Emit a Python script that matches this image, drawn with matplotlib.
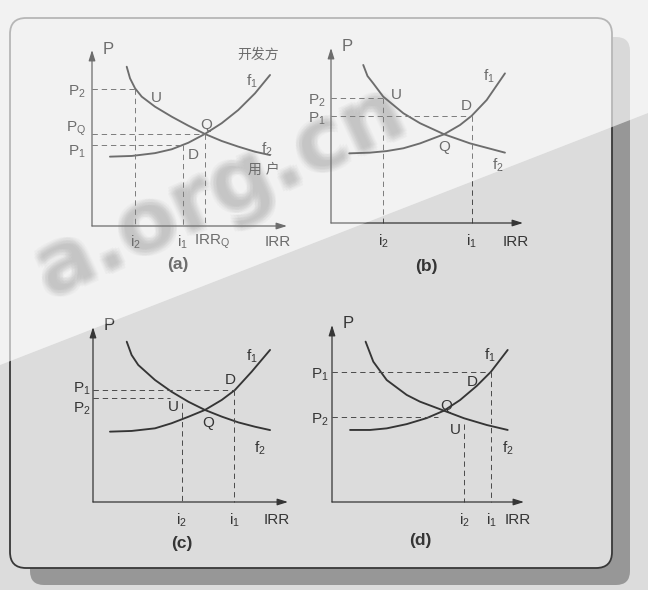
import matplotlib
matplotlib.use('Agg')
import matplotlib.pyplot as plt
from matplotlib.patches import FancyBboxPatch, Polygon

plt.rcParams['font.family'] = ['Liberation Sans', 'Noto Sans CJK SC', 'DejaVu Sans']
plt.rcParams['mathtext.fontset'] = 'custom'
plt.rcParams['mathtext.rm'] = 'Liberation Sans'
plt.rcParams['mathtext.it'] = 'Liberation Sans'
plt.rcParams['mathtext.default'] = 'regular'

W, H = 648, 590
INK = '#353535'
DASH = '#4a4a4a'
BG = '#dcdcdc'

# ---- data (IRR / P in axis percent, origin = 0) ----
# panel (a)
a_f1_irr = [9.2, 20.4, 32.3, 40.9, 49.4, 57.9, 66.5, 75.0, 83.6, 91.3]
a_f1_p = [39.4, 39.8, 41.4, 43.6, 47.3, 52.3, 58.4, 65.9, 75.4, 85.8]
a_f2_irr = [17.8, 19.5, 22.1, 25.5, 32.3, 40.9, 49.4, 57.9, 66.5, 75.0, 83.6, 91.3]
a_f2_p = [90.5, 83.9, 78.2, 73.5, 67.8, 62.1, 57.0, 52.3, 48.3, 45.1, 42.2, 40.3]
a_p_lv = [77.7, 52.3, 46.0]        # P2, PQ, P1
a_i_lv = [22.1, 57.9, 46.5]        # i2, IRRQ, i1
a_h_end = [22.1, 57.9, 46.5]
a_v_top = [77.7, 52.3, 46.0]

# panel (b)
b_f1_irr = [9.5, 20.3, 29.0, 37.7, 46.4, 58.9, 67.2, 73.3, 81.1, 90.6]
b_f1_p = [39.8, 40.2, 41.1, 42.7, 45.5, 50.7, 56.0, 61.3, 70.3, 85.5]
b_f2_irr = [16.8, 19.0, 22.0, 27.2, 37.7, 46.4, 58.9, 72.4, 90.6]
b_f2_p = [90.3, 84.0, 79.8, 72.2, 62.7, 57.0, 50.7, 45.5, 40.2]
b_p_lv = [71.3, 61.3]              # P2, P1
b_i_lv = [27.2, 73.3]              # i2, i1
b_h_end = [27.2, 73.3]
b_v_top = [71.3, 61.3]

# panel (c)
c_f1_irr = [8.7, 19.8, 31.8, 40.3, 48.9, 57.4, 66.0, 72.8, 81.4, 90.8]
c_f1_p = [40.2, 40.6, 42.1, 45.0, 48.7, 52.6, 58.3, 64.0, 74.5, 86.9]
c_f2_irr = [17.3, 19.8, 23.2, 31.8, 40.3, 48.9, 57.4, 66.0, 74.5, 83.1, 90.8]
c_f2_p = [91.6, 84.0, 78.3, 69.7, 63.0, 57.3, 52.6, 48.8, 45.5, 43.0, 41.1]
c_p_lv = [64.0, 59.2]              # P1, P2
c_i_lv = [72.5, 45.5]              # i1, i2
c_h_end = [72.5, 39.5]
c_v_top = [64.0, 56.4]

# panel (d)
d_f1_irr = [9.4, 19.8, 28.5, 38.9, 49.3, 58.3, 66.7, 75.4, 82.8, 91.5]
d_f1_p = [40.7, 40.7, 41.6, 44.0, 47.4, 51.6, 57.6, 65.6, 73.6, 85.9]
d_f2_irr = [17.5, 21.5, 28.5, 38.9, 45.8, 58.3, 68.8, 80.6, 91.5]
d_f2_p = [90.6, 79.3, 68.9, 60.5, 56.7, 51.6, 47.3, 43.5, 40.7]
d_p_lv = [73.6, 48.2]              # P1, P2
d_i_lv = [82.8, 68.8]              # i1, i2
d_h_end = [82.8, 55.0]
d_v_top = [73.6, 44.0]

fig = plt.figure(figsize=(W / 100, H / 100), dpi=100)
fig.patch.set_facecolor(BG)

# page background: shadow, frame, washed-out upper-left
ax_bg = fig.add_axes([0, 0, 1, 1], zorder=-5)
ax_bg.set_xlim(0, W)
ax_bg.set_ylim(H, 0)
ax_bg.axis('off')
ax_bg.add_patch(FancyBboxPatch((30, 37), 600, 548, boxstyle='round,pad=0,rounding_size=14',
                               fc='#979797', ec='none'))
ax_bg.add_patch(FancyBboxPatch((10, 18), 602, 550, boxstyle='round,pad=0,rounding_size=16',
                               fc=BG, ec='#383838', lw=1.3))
upper = [(0, 0), (W, 0), (W, 113), (0, 365)]
ax_bg.add_patch(Polygon(upper, closed=True, fc='white', ec='none', alpha=0.5))

# blurry watermark
ax_wm = fig.add_axes([0, 0, 1, 1], zorder=-1)
ax_wm.set_xlim(0, W)
ax_wm.set_ylim(H, 0)
ax_wm.axis('off')
for dx in (-3, 0, 3):
    for dy in (-3, 0, 3):
        ax_wm.text(220 + dx, 192 + dy, 'a.org.cn', rotation=25, fontsize=62, fontweight='bold',
                   family='DejaVu Sans', color='#6a6a6a', alpha=0.065, ha='center', va='center')


def draw_panel(box, f1_irr, f1_p, f2_irr, f2_p, p_lv, h_end, i_lv, v_top, texts, tag):
    ox, oy, xend, ytop = box
    w = xend - ox
    h = oy - ytop
    x0, x1, y0, y1 = -40, 118, -35, 112
    left = ox + x0 / 100 * w
    right = ox + x1 / 100 * w
    bottom = oy - y0 / 100 * h
    top = oy - y1 / 100 * h
    ax = fig.add_axes([left / W, 1 - bottom / H, (right - left) / W, (bottom - top) / H])
    ax.set_xlim(x0, x1)
    ax.set_ylim(y0, y1)
    ax.axis('off')

    arrow = dict(arrowstyle='-|>,head_length=0.7,head_width=0.22', mutation_scale=9,
                 lw=0.9, color=INK, shrinkA=0, shrinkB=0)
    ax.annotate('', xy=(0, 100), xytext=(0, 0), arrowprops=arrow)
    ax.annotate('', xy=(100, 0), xytext=(0, 0), arrowprops=arrow)

    ax.plot(f1_irr, f1_p, color=INK, lw=1.35, solid_joinstyle='round', solid_capstyle='round')
    ax.plot(f2_irr, f2_p, color=INK, lw=1.35, solid_joinstyle='round', solid_capstyle='round')

    dashes = (0, (5.5, 4))
    for p, xe in zip(p_lv, h_end):
        ax.plot([0, xe], [p, p], ls=dashes, lw=0.7, color=DASH)
    for i, vt in zip(i_lv, v_top):
        ax.plot([i, i], [vt, 0], ls=dashes, lw=0.7, color=DASH)

    for s, x, y, size in texts:
        ax.text(x, y, s, fontsize=size, color=INK, ha='center', va='center')
    ax.text(tag[1], tag[2], tag[0], fontsize=12.5, fontweight='bold', color=INK,
            ha='center', va='center')
    return ax


draw_panel((92, 226, 287, 50), a_f1_irr, a_f1_p, a_f2_irr, a_f2_p,
           a_p_lv, a_h_end, a_i_lv, a_v_top,
           [('P', 8.2, 100, 12),
            ('$P_2$', -8, 76.3, 11), ('$P_Q$', -8, 55, 11), ('$P_1$', -8, 42.2, 11),
            ('$i_2$', 22.1, -9, 11), ('$i_1$', 46.5, -9, 11), ('$IRR_Q$', 61.5, -9, 11),
            ('IRR', 95, -9, 11),
            ('开发方', 85, 97, 10), ('用 户', 88, 31.8, 10),
            ('$f_1$', 81.9, 82, 11), ('$f_2$', 89.6, 43.6, 11),
            ('U', 33.2, 72.9, 11), ('Q', 58.8, 57.4, 11), ('D', 51.9, 40.3, 11)],
           ('(a)', 44, -22))

draw_panel((331, 223, 523, 48), b_f1_irr, b_f1_p, b_f2_irr, b_f2_p,
           b_p_lv, b_h_end, b_i_lv, b_v_top,
           [('P', 8.2, 100.7, 12),
            ('$P_2$', -7.3, 69.7, 11), ('$P_1$', -7.3, 59.4, 11),
            ('$i_2$', 27.2, -10.7, 11), ('$i_1$', 73.3, -10.7, 11),
            ('IRR', 96.4, -10.7, 11),
            ('$f_1$', 82, 84, 11), ('$f_2$', 87, 33, 11),
            ('U', 33.9, 73.1, 11), ('D', 70.7, 66.9, 11), ('Q', 58.9, 43.6, 11)],
           ('(b)', 49.8, -25))

draw_panel((93, 502, 288, 327), c_f1_irr, c_f1_p, c_f2_irr, c_f2_p,
           c_p_lv, c_h_end, c_i_lv, c_v_top,
           [('P', 8.4, 101, 12),
            ('$P_1$', -5.6, 64.6, 11), ('$P_2$', -5.6, 53.1, 11),
            ('$i_2$', 45.5, -10.3, 11), ('$i_1$', 72.5, -10.3, 11),
            ('IRR', 94.2, -10.3, 11),
            ('$f_1$', 81.4, 83, 11), ('$f_2$', 85.6, 30.7, 11),
            ('U', 41.2, 54.5, 11), ('D', 70.3, 69.7, 11), ('Q', 59.1, 45, 11)],
           ('(c)', 45.5, -23.6))

draw_panel((332, 502, 524, 325), d_f1_irr, d_f1_p, d_f2_irr, d_f2_p,
           d_p_lv, d_h_end, d_i_lv, d_v_top,
           [('P', 8.5, 101, 12),
            ('$P_1$', -6.3, 71.8, 11), ('$P_2$', -6.3, 46.3, 11),
            ('$i_2$', 68.8, -10.2, 11), ('$i_1$', 82.8, -10.2, 11),
            ('IRR', 96.5, -10.2, 11),
            ('$f_1$', 82.3, 83, 11), ('$f_2$', 91.8, 30.3, 11),
            ('U', 64, 40.7, 11), ('D', 72.8, 68, 11), ('Q', 59.4, 54.2, 11)],
           ('(d)', 45.8, -21.5))

# second wash over the upper-left part, on top of the drawings
ax_top = fig.add_axes([0, 0, 1, 1], zorder=5)
ax_top.set_xlim(0, W)
ax_top.set_ylim(H, 0)
ax_top.axis('off')
ax_top.add_patch(Polygon(upper, closed=True, fc='white', ec='none', alpha=0.28))

fig.savefig('out.png', dpi=100, facecolor=fig.get_facecolor())
